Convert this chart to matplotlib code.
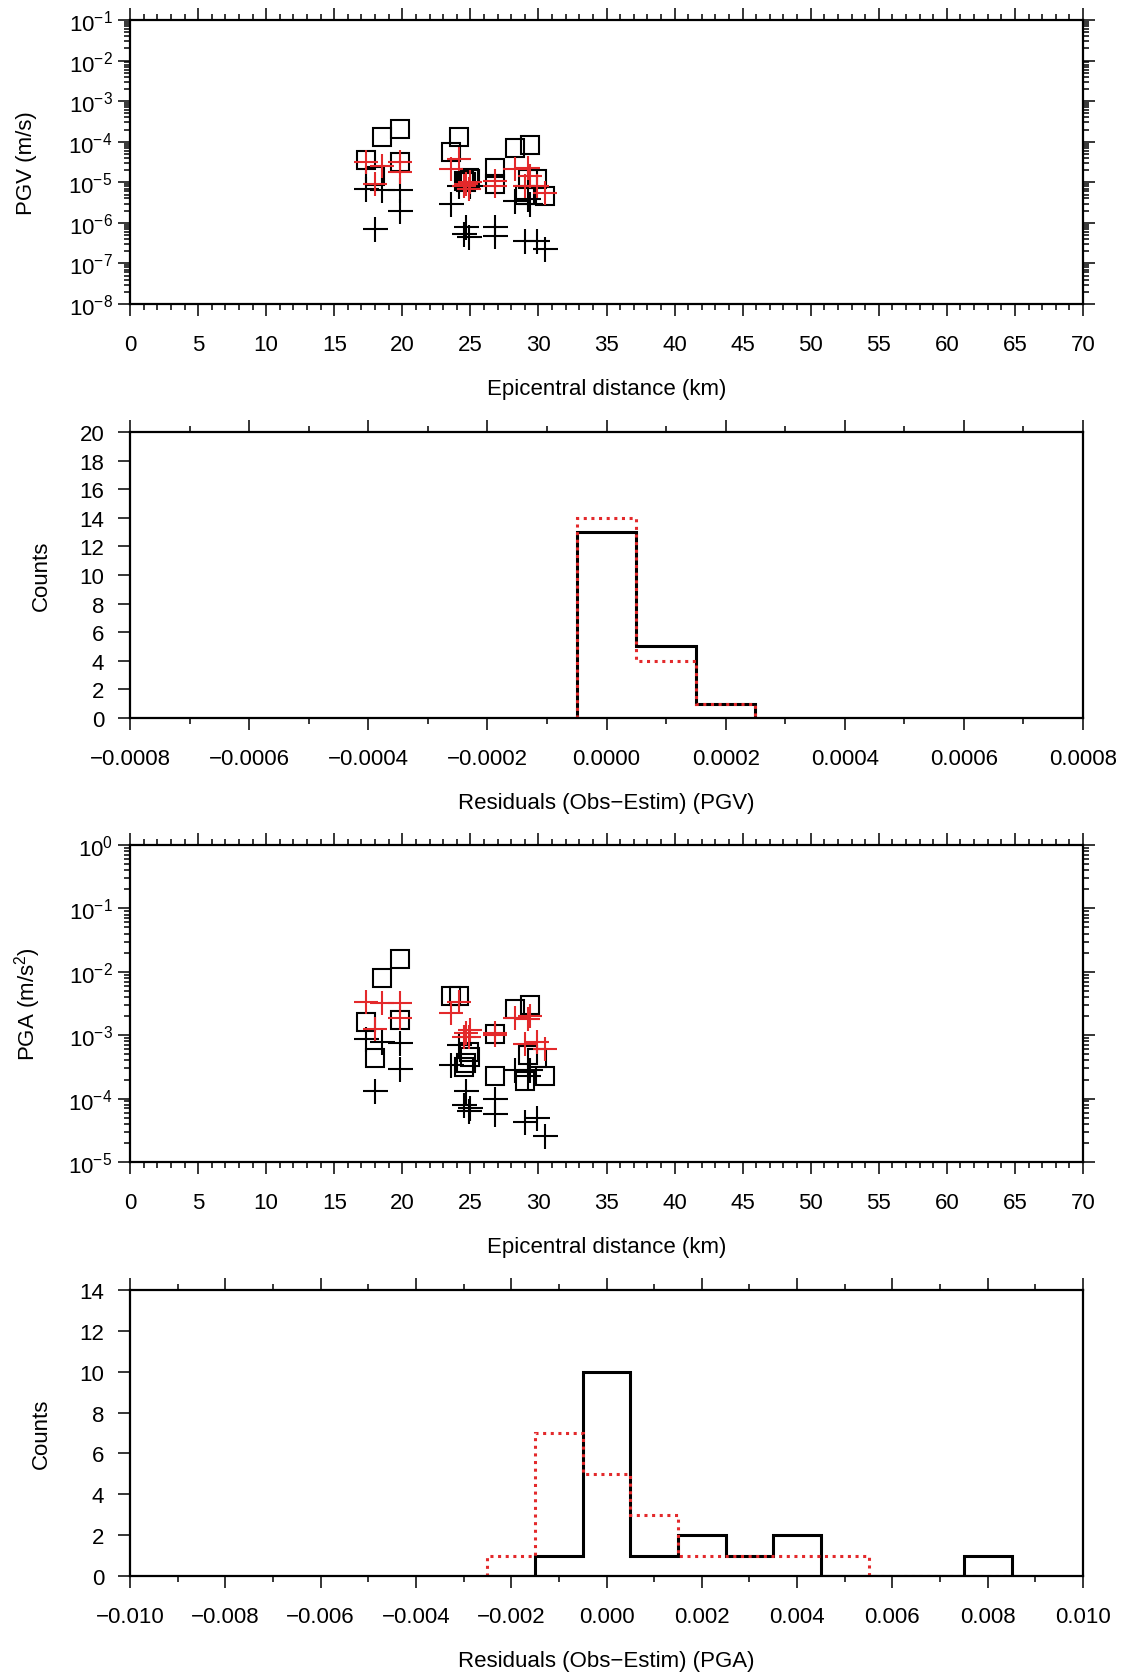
import numpy as np
import matplotlib
matplotlib.use("Agg")
import matplotlib.pyplot as plt
from matplotlib.ticker import LogLocator, NullFormatter, MultipleLocator, FuncFormatter

plt.rcParams['font.family'] = ['Liberation Sans', 'DejaVu Sans']
plt.rcParams['mathtext.fontset'] = 'custom'
plt.rcParams['mathtext.rm'] = 'Liberation Sans'
plt.rcParams['mathtext.it'] = 'Liberation Sans'
plt.rcParams['axes.unicode_minus'] = True

# epicentral distance of each station (km)
dist = [17.3, 18.0, 18.5, 19.8, 19.8, 23.6, 24.2, 24.5, 24.7, 24.9,
        25.0, 26.8, 26.8, 28.3, 29.0, 29.2, 29.4, 29.9, 30.5]

# PGV (m/s): observed, estimate 1 (black), estimate 2 (red)
pgv_obs = [3.5e-5, 1.45e-5, 1.3e-4, 2.1e-4, 3.1e-5, 5.5e-5, 1.3e-4, 1.1e-5, 1.0e-5, 1.3e-5,
           1.2e-5, 2.3e-5, 9e-6, 7e-5, 5e-6, 1.2e-5, 8.3e-5, 1.2e-5, 4.7e-6]
pgv_est_k = [6.8e-6, 7e-7, 6.3e-6, 6.3e-6, 2e-6, 2.9e-6, 8e-6, 5.4e-7, 7.8e-7, 4.4e-7,
             8.3e-6, 7.8e-7, 4.7e-7, 3.5e-6, 3.6e-7, 3.9e-6, 2.9e-6, 3.6e-7, 2.3e-7]
pgv_est_r = [3.1e-5, 9e-6, 2.5e-5, 3.1e-5, 1.8e-5, 2.1e-5, 3.7e-5, 8e-6, 9e-6, 7e-6,
             1.0e-5, 8.3e-6, 1.1e-5, 2.1e-5, 8.3e-6, 2.3e-5, 1.45e-5, 8.3e-6, 5.6e-6]

# PGA (m/s^2)
pga_obs = [1.6e-3, 4.3e-4, 7.9e-3, 1.6e-2, 1.75e-3, 4.1e-3, 4.1e-3, 3.1e-4, 3.6e-4, 5.4e-4,
           4.5e-4, 1.05e-3, 2.3e-4, 2.6e-3, 1.9e-4, 4.8e-4, 3.0e-3, 4.3e-4, 2.3e-4]
pga_est_k = [8.7e-4, 1.3e-4, 7.7e-4, 7.6e-4, 2.9e-4, 3.4e-4, 7e-4, 7.9e-5, 1.3e-4, 6.3e-5,
             7e-5, 1e-4, 5.8e-5, 2.8e-4, 4.2e-5, 2.3e-4, 2.8e-4, 4.9e-5, 2.6e-5]
pga_est_r = [3.3e-3, 1.26e-3, 3.2e-3, 3.2e-3, 1.9e-3, 2.2e-3, 3.3e-3, 9.5e-4, 1.1e-3, 9.5e-4,
             1.2e-3, 1.1e-3, 1.0e-3, 1.9e-3, 7.3e-4, 1.8e-3, 2.0e-3, 7.7e-4, 6e-4]

# residual histograms
pgv_edges = [-0.00005, 0.00005, 0.00015, 0.00025]
pgv_cnt_k = [13, 5, 1]
pgv_cnt_r = [14, 4, 1]

pga_edges = [-0.0025, -0.0015, -0.0005, 0.0005, 0.0015, 0.0025, 0.0035, 0.0045,
             0.0055, 0.0065, 0.0075, 0.0085]
pga_cnt_k = [0, 1, 10, 1, 2, 1, 2, 0, 0, 0, 1]
pga_cnt_r = [1, 7, 5, 3, 1, 1, 1, 1, 0, 0, 0]

RED = '#e3292b'
FS = 16

fig = plt.figure(figsize=(11.26, 16.74), dpi=100)
L, W = 0.1155, 0.8463
ax1 = fig.add_axes([L, 0.8178, W, 0.16965])
ax2 = fig.add_axes([L, 0.5705, W, 0.17085])
ax3 = fig.add_axes([L, 0.30526, W, 0.18937])
ax4 = fig.add_axes([L, 0.05795, W, 0.17085])


def style_axes(ax, ypad):
    for s in ax.spines.values():
        s.set_linewidth(1.6)
    ax.tick_params(which='both', direction='out', width=1.1, labelsize=FS)
    ax.tick_params(which='major', length=8.6)
    ax.tick_params(which='minor', length=4.3)
    ax.tick_params(axis='x', pad=13)
    ax.tick_params(axis='y', pad=ypad)


def minus_fmt(fmt):
    return FuncFormatter(lambda v, p: (fmt % v).replace('-', '\u2212') if abs(v) > 1e-12
                         else fmt % 0)


def scatter_panel(ax, obs, est_k, est_r, ylim, ylabel):
    ax.plot(dist, obs, 's', ms=13, mfc='none', mec='black', mew=1.5)
    ax.plot(dist, est_k, '+', ms=18, color='black', mew=1.5)
    ax.plot(dist, est_r, '+', ms=17, color=RED, mew=1.5)
    ax.set_yscale('log')
    ax.set_ylim(*ylim)
    ax.set_xlim(0, 70)
    ax.xaxis.set_major_locator(MultipleLocator(5))
    ax.xaxis.set_minor_locator(MultipleLocator(1))
    ax.yaxis.set_major_locator(LogLocator(base=10, numticks=20))
    ax.yaxis.set_minor_locator(LogLocator(base=10, subs=np.arange(2, 10), numticks=20))
    ax.yaxis.set_minor_formatter(NullFormatter())
    style_axes(ax, 4)
    ax.tick_params(which='both', top=True, right=True)
    ax.set_xlabel('Epicentral distance (km)', fontsize=FS, labelpad=16.5)
    ax.set_ylabel(ylabel, fontsize=FS)


def hist_panel(ax, edges, cnt_k, cnt_r, xlim, major, ymax, fmt, xlabel):
    ax.stairs(cnt_k, edges, baseline=0, color='black', linewidth=2.2)
    ax.stairs(cnt_r, edges, baseline=0, color=RED, linewidth=2.2, linestyle=(0, (1, 1.5)))
    ax.set_xlim(*xlim)
    ax.set_ylim(0, ymax)
    ax.xaxis.set_major_locator(MultipleLocator(major))
    ax.xaxis.set_minor_locator(MultipleLocator(major / 2))
    ax.xaxis.set_major_formatter(minus_fmt(fmt))
    ax.yaxis.set_major_locator(MultipleLocator(2))
    style_axes(ax, 10)
    ax.tick_params(axis='x', which='both', top=True)
    ax.set_xlabel(xlabel, fontsize=FS, labelpad=16.5)
    ax.set_ylabel('Counts', fontsize=FS)


scatter_panel(ax1, pgv_obs, pgv_est_k, pgv_est_r, (1e-8, 1e-1), 'PGV (m/s)')
hist_panel(ax2, pgv_edges, pgv_cnt_k, pgv_cnt_r, (-0.0008, 0.0008), 0.0002, 20, '%.4f',
           'Residuals (Obs\u2212Estim) (PGV)')
scatter_panel(ax3, pga_obs, pga_est_k, pga_est_r, (1e-5, 1e0), 'PGA (m/s$^{2}$)')
hist_panel(ax4, pga_edges, pga_cnt_k, pga_cnt_r, (-0.01, 0.01), 0.002, 14, '%.3f',
           'Residuals (Obs\u2212Estim) (PGA)')

ax1.yaxis.set_label_coords(-0.0976, 0.5)
ax3.yaxis.set_label_coords(-0.0913, 0.5)
ax2.yaxis.set_label_coords(-0.0818, 0.5)
ax4.yaxis.set_label_coords(-0.0818, 0.5)

fig.savefig('out.png', dpi=100, facecolor='white')
